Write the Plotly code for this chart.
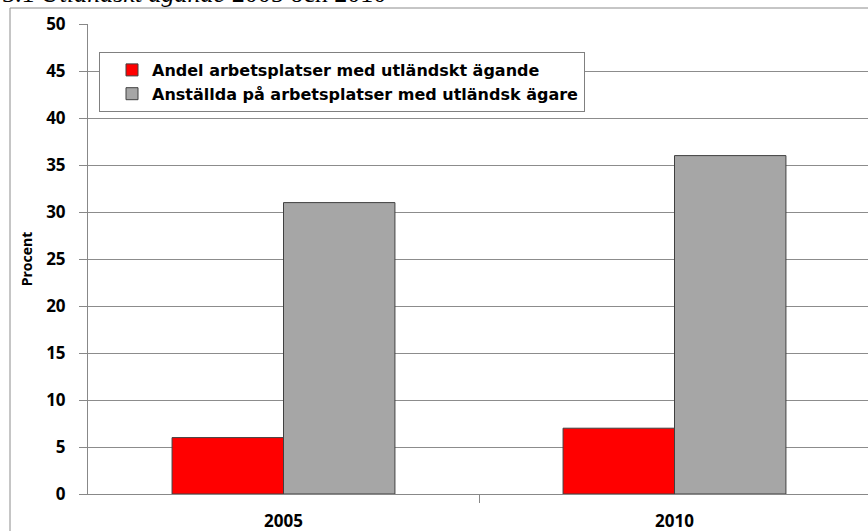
import plotly.graph_objects as go

years = ["2005", "2010"]
andel_arbetsplatser = [6, 7]
anstallda = [31, 36]
series_names = ["Andel arbetsplatser med utländskt ägande",
                "Anställda på arbetsplatser med utländsk ägare"]
y_ticks = list(range(0, 55, 5))

W, H = 868, 531
L, R, T, B = 88, 0, 24, 37
pw, ph = W - L - R, H - T - B

def px(x):
    return (x - L) / pw

def py(y):
    return (H - B - y) / ph

xpos = list(range(len(years)))

fig = go.Figure()
fig.add_trace(go.Bar(x=xpos, y=andel_arbetsplatser, name=series_names[0],
                     marker=dict(color="#FF0000", line=dict(color="#404040", width=1))))
fig.add_trace(go.Bar(x=xpos, y=anstallda, name=series_names[1],
                     marker=dict(color="#A6A6A6", line=dict(color="#404040", width=1))))

font_b = "Open Sans"
fig.update_layout(
    width=W, height=H,
    margin=dict(l=L, r=R, t=T, b=B, pad=0),
    paper_bgcolor="white", plot_bgcolor="white",
    barmode="group", bargap=0.43, bargroupgap=0,
    showlegend=True,
    legend=dict(x=px(99), y=py(52), xanchor="left", yanchor="top",
                bgcolor="white", bordercolor="#808080", borderwidth=1,
                font=dict(family="DejaVu Sans", size=16, color="black", weight="bold"),
                itemwidth=30, indentation=12, tracegroupgap=0),
    xaxis=dict(range=[-0.5, 1.5 - 2 / 391.5], tickvals=xpos, ticktext=years,
               ticks="", showgrid=False, showline=True, linecolor="#888888", linewidth=1,
               tickfont=dict(family=font_b, size=17, color="black", weight="bold"),
               ticklabelstandoff=12, automargin=False,
               minor=dict(tickvals=[0.5], ticks="outside", ticklen=8, tickcolor="#888888", showgrid=False),
               fixedrange=True),
    yaxis=dict(range=[0, 50], tickvals=y_ticks, ticks="outside", ticklen=8, tickcolor="#888888",
               showgrid=True, gridcolor="#8c8c8c", gridwidth=1,
               showline=True, linecolor="#888888", linewidth=1, zeroline=False,
               tickfont=dict(family=font_b, size=17, color="black", weight="bold"),
               ticklabelstandoff=10, automargin=False, fixedrange=True,
               title=dict(text="Procent", font=dict(family=font_b, size=14, color="black", weight="bold"),
                          standoff=10)),
    shapes=[
        dict(type="line", xref="paper", yref="paper", x0=px(10), x1=px(10), y0=py(8), y1=py(560),
             line=dict(color="#8c8c8c", width=1)),
        dict(type="line", xref="paper", yref="paper", x0=px(10), x1=px(900), y0=py(8), y1=py(8),
             line=dict(color="#8c8c8c", width=1)),
    ],
    annotations=[
        dict(text="3.1 <i>Utländskt ägande</i> 2005 och 2010", xref="paper", yref="paper",
             x=px(0), y=py(10), xanchor="left", yanchor="bottom", showarrow=False,
             font=dict(family="Liberation Serif", size=26, color="black")),
    ],
)

fig.write_html("out.html", config={"displayModeBar": False},
               post_script="document.body.style.margin='0px';document.body.style.overflow='hidden';")
